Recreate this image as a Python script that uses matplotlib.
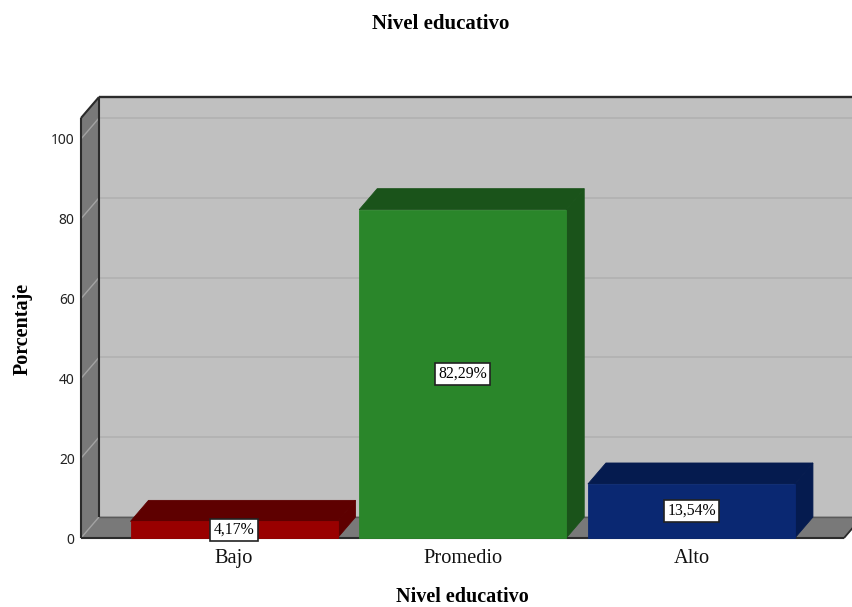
import matplotlib
matplotlib.use('Agg')
import matplotlib.pyplot as plt
from matplotlib.patches import Polygon

# data
categories = ['Bajo', 'Promedio', 'Alto']
percentages = [4.17, 82.29, 13.54]
y_ticks = [0, 20, 40, 60, 80, 100]

# colours: front face, top/side face
FRONT = ['#990000', '#2a862a', '#0a2872']
SHADE = ['#5e0000', '#1a531a', '#051b4f']
WALL = '#c0c0c0'
SIDE = '#797979'
LINE = '#2b2b2b'

BAR_W = 0.905
X_MIN, X_MAX = -0.669, 2.667
Y_MAX = 105.26
# depth of the fake 3d box in data units
DX = 0.0787
DY = 5.26

plt.rcParams['font.family'] = ['Liberation Serif', 'DejaVu Serif']

fig = plt.figure(figsize=(8.53, 6.07), dpi=100)
ax = fig.add_axes([81/853, 69/607, 763/853, 420/607])
ax.set_xlim(X_MIN, X_MAX)
ax.set_ylim(0, Y_MAX)
ax.patch.set_visible(False)
for s in ax.spines.values():
    s.set_visible(False)


def poly(pts, color, z, edge=None, lw=0.6):
    ax.add_patch(Polygon(pts, closed=True, facecolor=color,
                         edgecolor=edge if edge else color, linewidth=lw,
                         zorder=z, clip_on=False))


def seg(xs, ys, color, lw, z=3):
    ax.plot(xs, ys, color=color, linewidth=lw, zorder=z, clip_on=False,
            solid_capstyle='butt')


# back wall, left wall, floor
poly([(X_MIN+DX, DY), (X_MAX+DX, DY), (X_MAX+DX, Y_MAX+DY), (X_MIN+DX, Y_MAX+DY)], WALL, 1)
poly([(X_MIN, 0), (X_MIN+DX, DY), (X_MIN+DX, Y_MAX+DY), (X_MIN, Y_MAX)], SIDE, 1)
poly([(X_MIN, 0), (X_MAX, 0), (X_MAX+DX, DY), (X_MIN+DX, DY)], SIDE, 1)

# gridlines wrap from the left wall onto the back wall
for t in y_ticks[1:]:
    seg([X_MIN, X_MIN+DX], [t, t+DY], '#a3a3a3', 1.0, 2)
    seg([X_MIN+DX, X_MAX+DX], [t+DY, t+DY], '#b2b2b2', 1.3, 2)
seg([X_MIN, X_MIN+DX], [0, DY], '#a3a3a3', 1.0, 2)
seg([X_MIN+DX, X_MAX+DX], [DY, DY], '#5a5a5a', 1.0, 2)

# box outline
seg([X_MIN+DX, X_MIN+DX], [DY, Y_MAX+DY], LINE, 1.5)
seg([X_MIN, X_MIN], [0, Y_MAX], LINE, 1.5)
seg([X_MIN, X_MIN+DX], [Y_MAX, Y_MAX+DY], LINE, 1.5)
seg([X_MIN+DX, X_MAX+DX], [Y_MAX+DY, Y_MAX+DY], LINE, 1.7)
seg([X_MIN, X_MAX], [0, 0], LINE, 1.5)
seg([X_MAX, X_MAX+DX], [0, DY], LINE, 1.3)

# bars
for i, v in enumerate(percentages):
    l = i - BAR_W/2
    r = i + BAR_W/2
    poly([(l, v), (r, v), (r+DX, v+DY), (l+DX, v+DY)], SHADE[i], 4)
    poly([(r, 0), (r+DX, DY), (r+DX, v+DY), (r, v)], SHADE[i], 4)
    poly([(l, 0), (r, 0), (r, v), (l, v)], FRONT[i], 5)
    label = '{:.2f}%'.format(v).replace('.', ',')
    ax.text(i, v/2, label, ha='center', va='center', fontsize=11.3, color='black', zorder=6,
            bbox=dict(boxstyle='square,pad=0.2', facecolor='white', edgecolor='#222222', linewidth=1.2))

ax.set_xticks(range(len(categories)))
ax.set_xticklabels(categories, fontsize=14.7, color='#111111')
ax.set_yticks(y_ticks)
ax.set_yticklabels(y_ticks, family=['Noto Sans'], fontsize=10, color='#222222')
ax.tick_params(axis='x', length=0, pad=8)
ax.tick_params(axis='y', length=0, pad=4.5)

fig.text(441/853, 1-24/607, 'Nivel educativo', ha='center', va='center', fontsize=15, fontweight='bold')
fig.text(462/853, 1-602.3/607, 'Nivel educativo', ha='center', va='baseline', fontsize=14.5, fontweight='bold')
fig.text(23/853, 1-329/607, 'Porcentaje', ha='center', va='center', rotation=90, fontsize=14.5, fontweight='bold')

fig.savefig('out.png', dpi=100)
